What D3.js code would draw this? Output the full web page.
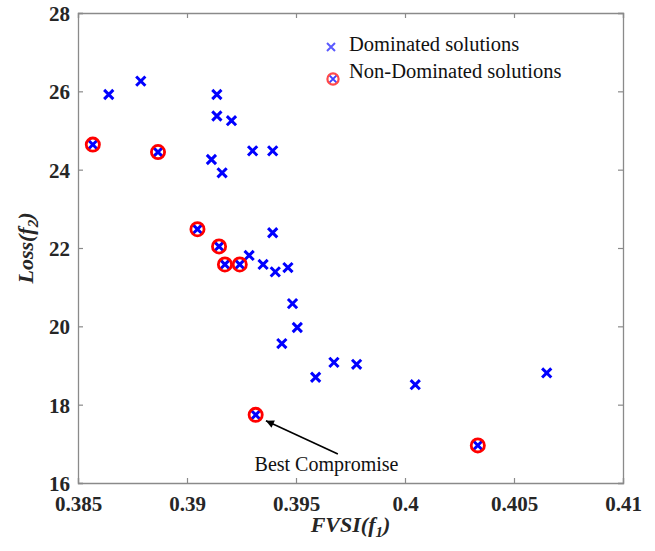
<!DOCTYPE html>
<html>
<head>
<meta charset="utf-8">
<script src="https://cdn.jsdelivr.net/npm/d3@7"></script>
<style>
  body { margin: 0; background: #fff; }
  svg { display: block; }
</style>
</head>
<body>
<svg></svg>
<script>
var w = 655, h = 551;
var margin = {left: 78, right: 32, top: 13, bottom: 70};

// dominated solutions (blue x only)
var domX = [0.38641, 0.38788, 0.39137, 0.39137, 0.39204, 0.39112, 0.39161, 0.39301, 0.39393,
            0.39393, 0.39285, 0.39349, 0.39405, 0.39463, 0.39484, 0.39506, 0.39435, 0.39590,
            0.39674, 0.39778, 0.40047, 0.40650];
var domY = [25.92, 26.26, 25.92, 25.37, 25.25, 24.26, 23.92, 24.48, 24.48,
            22.39, 21.81, 21.58, 21.39, 21.50, 20.58, 19.97, 19.56, 18.70,
            19.08, 19.03, 18.51, 18.81];

// non-dominated solutions (x with red ring)
var ndX = [0.38568, 0.38867, 0.39048, 0.39147, 0.39174, 0.39242, 0.39315, 0.40334];
var ndY = [24.64, 24.45, 22.48, 22.04, 21.58, 21.58, 17.74, 16.96];

var xTicks = [0.385, 0.39, 0.395, 0.4, 0.405, 0.41];
var yTicks = [16, 18, 20, 22, 24, 26, 28];

var legendLabels = ["Dominated solutions", "Non-Dominated solutions"];

// annotation (data units)
var noteText = "Best Compromise";
var noteAt = [0.3964, 16.31];
var arrowFrom = [0.39692, 16.74];
var arrowTo = [0.39362, 17.59];

var serif = "'Liberation Serif', 'Times New Roman', serif";

function draw() {
  var svg = d3.select("svg").attr("width", w).attr("height", h);

  var x = d3.scaleLinear().domain([0.385, 0.41]).range([margin.left, w - margin.right]);
  var y = d3.scaleLinear().domain([16, 28]).range([h - margin.bottom + 2, margin.top]);

  var x0 = x.range()[0], x1 = x.range()[1];
  var y0 = y.range()[0], y1 = y.range()[1];

  // ticks, inward, on all four sides
  var fmtX = function(d){ return String(+d.toFixed(3)); };
  var axB = svg.append("g").attr("transform", "translate(0," + y0 + ")")
    .call(d3.axisBottom(x).tickValues(xTicks).tickSize(-5).tickPadding(10).tickFormat(fmtX));
  var axT = svg.append("g").attr("transform", "translate(0," + y1 + ")")
    .call(d3.axisTop(x).tickValues(xTicks).tickSize(-5).tickFormat(""));
  var axL = svg.append("g").attr("transform", "translate(" + x0 + ",0)")
    .call(d3.axisLeft(y).tickValues(yTicks).tickSize(-5).tickPadding(8));
  var axR = svg.append("g").attr("transform", "translate(" + x1 + ",0)")
    .call(d3.axisRight(y).tickValues(yTicks).tickSize(-5).tickFormat(""));

  [axB, axT, axL, axR].forEach(function(a){
    a.select(".domain").attr("stroke", "#8a8a8a").attr("stroke-width", 1.3);
    a.selectAll(".tick line").attr("stroke", "#8a8a8a").attr("stroke-width", 1.2);
    a.selectAll("text").style("font-family", serif).style("font-size", "21px")
      .style("font-weight", "bold").attr("fill", "#262626");
  });
  axB.selectAll("text").attr("dy", "0.85em");
  axL.selectAll("text").attr("dy", "0.35em");

  // axis titles
  var xt = svg.append("text")
    .attr("x", (x0 + x1) / 2).attr("y", 532)
    .attr("text-anchor", "middle")
    .style("font-family", serif).style("font-size", "22px")
    .style("font-weight", "bold").style("font-style", "italic").attr("fill", "#262626");
  xt.append("tspan").text("FVSI(f");
  xt.append("tspan").style("font-size", "15px").attr("dy", 5).text("1");
  xt.append("tspan").attr("dy", -5).text(")");

  var yt = svg.append("text")
    .attr("transform", "translate(33," + ((y0 + y1) / 2) + ") rotate(-90)")
    .attr("text-anchor", "middle")
    .style("font-family", serif).style("font-size", "22px")
    .style("font-weight", "bold").style("font-style", "italic").attr("fill", "#262626");
  yt.append("tspan").text("Loss(f");
  yt.append("tspan").style("font-size", "15px").attr("dy", 5).text("2");
  yt.append("tspan").attr("dy", -5).text(")");

  var xPath = function(s){ return "M" + (-s) + "," + (-s) + "L" + s + "," + s + "M" + (-s) + "," + s + "L" + s + "," + (-s); };

  // blue x for every solution
  var allX = domX.concat(ndX), allY = domY.concat(ndY);
  svg.append("g").selectAll("path")
    .data(allX)
    .enter()
    .append("path")
    .attr("transform", function(d, i){ return "translate(" + x(d) + "," + y(allY[i]) + ")"; })
    .attr("d", xPath(4.6))
    .attr("fill", "none")
    .attr("stroke", "#0000ff")
    .attr("stroke-width", 3);

  // red rings on non-dominated
  svg.append("g").selectAll("circle")
    .data(ndX)
    .enter()
    .append("circle")
    .attr("cx", function(d){ return x(d); })
    .attr("cy", function(d, i){ return y(ndY[i]); })
    .attr("r", 6.6)
    .attr("fill", "none")
    .attr("stroke", "#ff0000")
    .attr("stroke-width", 2.8);

  // legend
  var lg = svg.append("g");
  lg.append("path").attr("transform", "translate(331,47)").attr("d", xPath(4))
    .attr("stroke", "#5a5aff").attr("stroke-width", 2).attr("fill", "none");
  lg.append("path").attr("transform", "translate(333,79)").attr("d", xPath(3.6))
    .attr("stroke", "#4040ff").attr("stroke-width", 2).attr("fill", "none");
  lg.append("circle").attr("cx", 333).attr("cy", 79).attr("r", 5.6)
    .attr("fill", "none").attr("stroke", "#ff4a4a").attr("stroke-width", 2.2);
  lg.selectAll("text")
    .data(legendLabels)
    .enter()
    .append("text")
    .attr("x", 349)
    .attr("y", function(d, i){ return 51 + i * 27; })
    .style("font-family", serif).style("font-size", "20.5px").attr("fill", "#111")
    .text(function(d){ return d; });

  // annotation arrow
  svg.append("defs").append("marker")
    .attr("id", "ah").attr("viewBox", "0 0 10 10")
    .attr("refX", 10).attr("refY", 5)
    .attr("markerWidth", 10).attr("markerHeight", 8)
    .attr("markerUnits", "userSpaceOnUse")
    .attr("orient", "auto")
    .append("path").attr("d", "M0,0L10,5L0,10Z").attr("fill", "#000");

  svg.append("line")
    .attr("x1", x(arrowFrom[0])).attr("y1", y(arrowFrom[1]))
    .attr("x2", x(arrowTo[0])).attr("y2", y(arrowTo[1]))
    .attr("stroke", "#000").attr("stroke-width", 1.6)
    .attr("marker-end", "url(#ah)");

  svg.append("text")
    .attr("x", x(noteAt[0])).attr("y", y(noteAt[1]))
    .attr("text-anchor", "middle")
    .style("font-family", serif).style("font-size", "20px").attr("fill", "#111")
    .text(noteText);
}

draw();
</script>
</body>
</html>
